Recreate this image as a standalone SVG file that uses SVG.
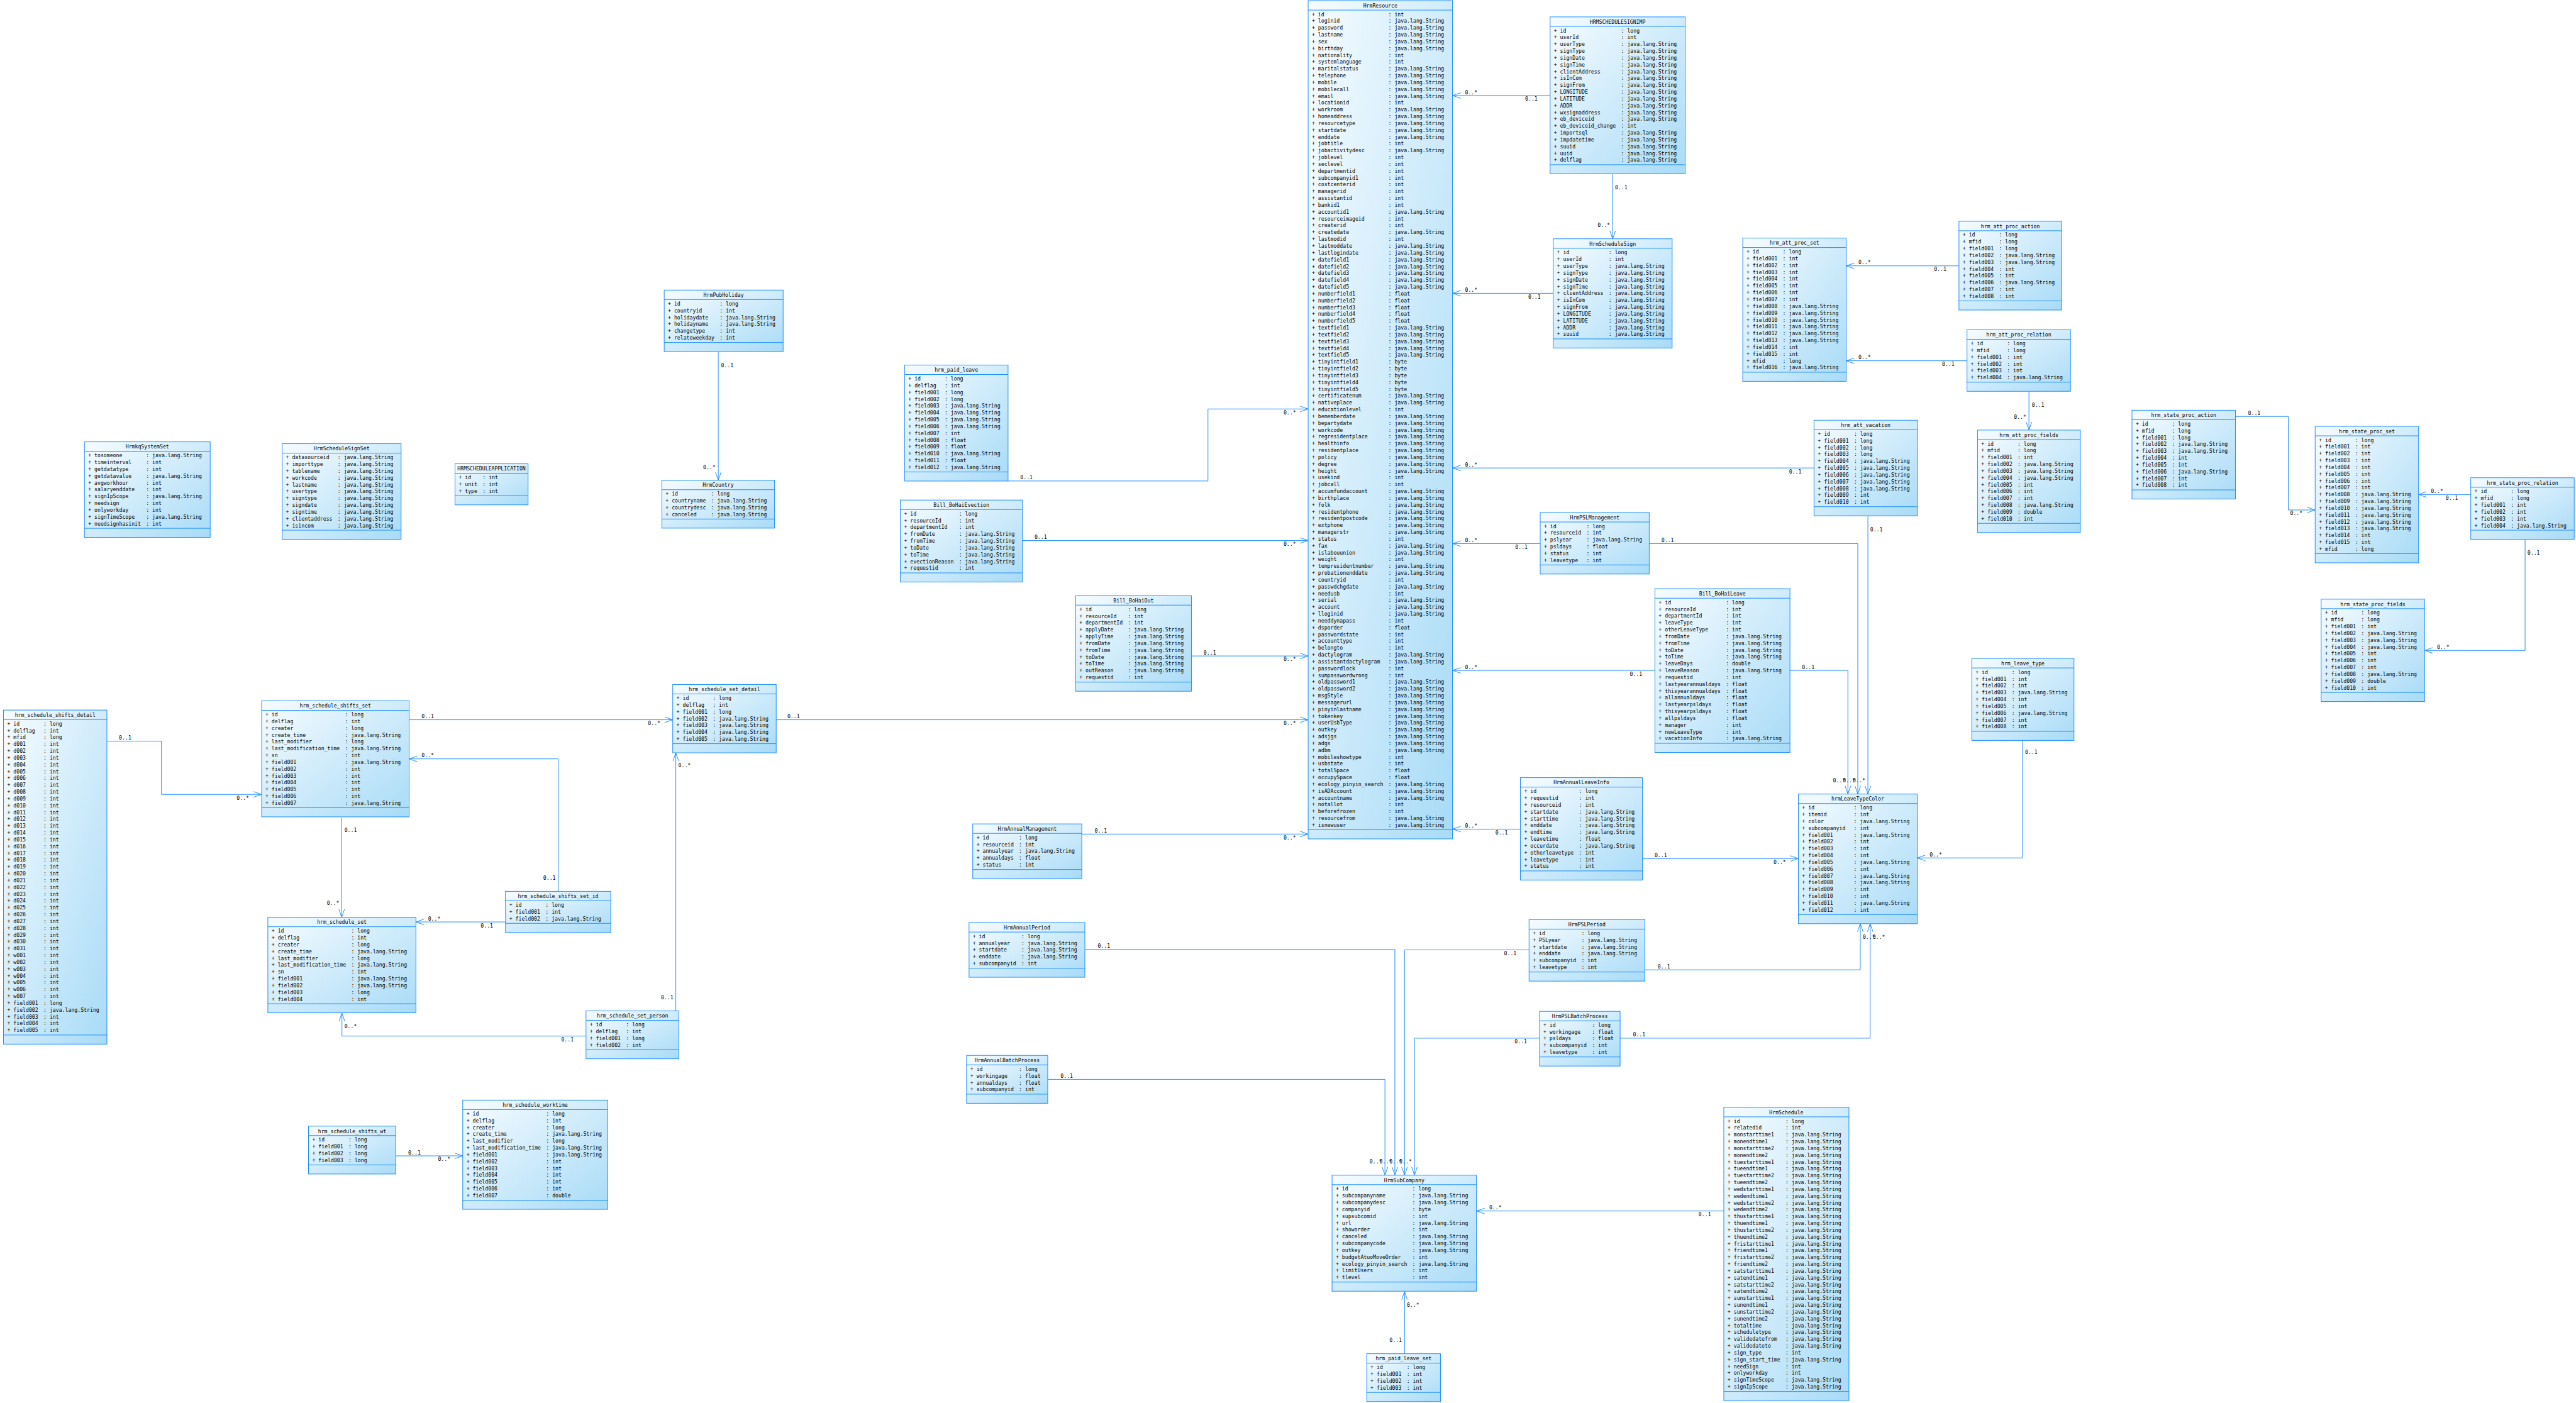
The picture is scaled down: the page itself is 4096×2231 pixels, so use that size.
<svg xmlns="http://www.w3.org/2000/svg" width="4096" height="2231" viewBox="0 0 4096 2231">
<defs>
<linearGradient id="g" x1="0" y1="0" x2="1" y2="1"><stop offset="0" stop-color="#f7fcff"/><stop offset="1" stop-color="#a8dbf7"/></linearGradient>
<marker id="a" markerUnits="userSpaceOnUse" markerWidth="15" markerHeight="11" refX="13.5" refY="5.5" orient="auto"><path d="M0.5 1L13.5 5.5L0.5 10" fill="none" stroke="#1a8cff"/></marker>
</defs>
<style>
text{font-family:"DejaVu Sans Mono","Liberation Mono",monospace;font-size:8.33px;fill:#000}
.h{text-anchor:middle}
.e{text-anchor:end}
.b{fill:url(#g);stroke:#1a8cff}
.s{fill:none;stroke:#1a8cff}
#conn path{fill:none;stroke:#1a8cff;marker-end:url(#a)}
</style>
<rect width="4096" height="2231" fill="#fff"/>
<g transform="scale(0.985)">
<g id="conn">
<path d="M2502.3 154.3H2345"/><text class="e" x="2482" y="162.8">0..1</text><text x="2365" y="151.8">0..*</text>
<path d="M2507.3 473.5H2345"/><text class="e" x="2487" y="482">0..1</text><text x="2365" y="471">0..*</text>
<path d="M2603.3 281.4V385.5"/><text x="2607" y="305.8">0..1</text><text class="e" x="2599" y="366.7">0..*</text>
<path d="M3162.3 429.2H2980.3"/><text class="e" x="3142" y="437.7">0..1</text><text x="3000" y="426.7">0..*</text>
<path d="M3175.3 582.4H2980.3"/><text class="e" x="3155" y="591">0..1</text><text x="3000" y="580">0..*</text>
<path d="M3275.3 632.4V694.3"/><text x="3280" y="656.7">0..1</text><text class="e" x="3271" y="675.7">0..*</text>
<path d="M2928.3 755.5H2345"/><text class="e" x="2908" y="764">0..1</text><text x="2365" y="753">0..*</text>
<path d="M3015.3 833.6V1281.9"/><text x="3019" y="857.9">0..1</text><text class="e" x="3011" y="1262.7">0..*</text>
<path d="M2486.3 877.6H2345"/><text class="e" x="2466" y="886">0..1</text><text x="2365" y="875">0..*</text>
<path d="M2662.2 877.6H2999V1281.9"/><text x="2682" y="875">0..1</text><text class="e" x="2995" y="1262.7">0..*</text>
<path d="M2671.5 1082.3H2345"/><text class="e" x="2651" y="1091">0..1</text><text x="2365" y="1080">0..*</text>
<path d="M2889.5 1082.3H2983V1281.9"/><text x="2909" y="1080">0..1</text><text class="e" x="2979" y="1262.7">0..*</text>
<path d="M2454.3 1338.5H2345"/><text class="e" x="2434" y="1347">0..1</text><text x="2365" y="1336">0..*</text>
<path d="M2651.3 1386H2903"/><text x="2671" y="1383.5">0..1</text><text class="e" x="2883" y="1394.5">0..*</text>
<path d="M3265 1195.3V1385H3095"/><text x="3269" y="1217">0..1</text><text x="3115" y="1382.5">0..*</text>
<path d="M2655.7 1565.7H3003V1491.2"/><text x="2676" y="1563">0..1</text><text x="3007" y="1516">0..*</text>
<path d="M2615.3 1676H3019V1491.2"/><text x="2636" y="1673.5">0..1</text><text x="3023" y="1516">0..*</text>
<path d="M2782.7 1955H2383.7"/><text class="e" x="2762" y="1963.5">0..1</text><text x="2404" y="1952.5">0..*</text>
<path d="M2267.3 2185.4V2085.1"/><text class="e" x="2263" y="2166.7">0..1</text><text x="2271" y="2109.3">0..*</text>
<path d="M2468.3 1533.5H2267.3V1897.2"/><text class="e" x="2448" y="1542">0..1</text><text class="e" x="2263" y="1878.5">0..*</text>
<path d="M2485.3 1676H2283.3V1897.2"/><text class="e" x="2465" y="1684.5">0..1</text><text class="e" x="2279" y="1878.5">0..*</text>
<path d="M1751.7 1532.9H2251.7V1897.2"/><text x="1772" y="1530.4">0..1</text><text class="e" x="2247" y="1878.5">0..*</text>
<path d="M1691.7 1742.5H2235.7V1897.2"/><text x="1712" y="1740">0..1</text><text class="e" x="2231" y="1878.5">0..*</text>
<path d="M1746.3 1346.5H2111.7"/><text x="1767" y="1344">0..1</text><text class="e" x="2092" y="1355">0..*</text>
<path d="M1923.3 1059H2111.7"/><text x="1943" y="1056.5">0..1</text><text class="e" x="2092" y="1067.5">0..*</text>
<path d="M1650.5 872.5H2111.7"/><text x="1670" y="870">0..1</text><text class="e" x="2092" y="881">0..*</text>
<path d="M1627.5 776.5H1950V660.2H2111.7"/><text x="1647" y="774">0..1</text><text class="e" x="2092" y="668.7">0..*</text>
<path d="M1253 1162H2111.7"/><text x="1271" y="1159.5">0..1</text><text class="e" x="2092" y="1170.5">0..*</text>
<path d="M660.5 1162H1086"/><text x="680.5" y="1159.5">0..1</text><text class="e" x="1066" y="1170.5">0..*</text>
<path d="M172.6 1196.4H260.6V1282.5H422.4"/><text x="192" y="1194">0..1</text><text class="e" x="402" y="1291">0..*</text>
<path d="M551.6 1319.7V1480.8"/><text x="556" y="1343.3">0..1</text><text class="e" x="547.6" y="1461.2">0..*</text>
<path d="M901 1439V1225.1H660.5"/><text class="e" x="897" y="1420">0..1</text><text x="680.5" y="1222.6">0..*</text>
<path d="M816 1488.4H671.3"/><text class="e" x="796" y="1497">0..1</text><text x="691" y="1486">0..*</text>
<path d="M946 1672.5H552V1635.4"/><text class="e" x="926" y="1681">0..1</text><text x="556" y="1659.8">0..*</text>
<path d="M1091 1632V1215.3"/><text class="e" x="1087" y="1613">0..1</text><text x="1095" y="1239">0..*</text>
<path d="M639 1866H747"/><text x="659" y="1863.5">0..1</text><text class="e" x="727" y="1874.5">0..*</text>
<path d="M1159.5 568.3V775.3"/><text x="1164" y="592.7">0..1</text><text class="e" x="1155" y="757">0..*</text>
<path d="M3608.3 672.3H3694V823.3H3737.3"/><text x="3629" y="669.8">0..1</text><text class="e" x="3717" y="831.8">0..*</text>
<path d="M3988.5 798.3H3904"/><text class="e" x="3968" y="806.8">0..1</text><text x="3924" y="795.8">0..*</text>
<path d="M4076.2 871.3V1050H3914"/><text x="4080" y="895.7">0..1</text><text x="3934" y="1047.5">0..*</text>
</g>

<g id="HrmResource" transform="translate(2111.7,1)"><rect class="b" width="233" height="1353.3"/><path class="s" d="M0 15.3H233M0 1338.6H233"/><text class="h" x="116.5" y="11">HrmResource</text><g transform="translate(6)">
<text y="25">+ id<tspan x="123.5">: int</tspan></text>
<text y="36">+ loginid<tspan x="123.5">: java.lang.String</tspan></text>
<text y="47">+ password<tspan x="123.5">: java.lang.String</tspan></text>
<text y="58">+ lastname<tspan x="123.5">: java.lang.String</tspan></text>
<text y="69">+ sex<tspan x="123.5">: java.lang.String</tspan></text>
<text y="80">+ birthday<tspan x="123.5">: java.lang.String</tspan></text>
<text y="91">+ nationality<tspan x="123.5">: int</tspan></text>
<text y="102">+ systemlanguage<tspan x="123.5">: int</tspan></text>
<text y="113">+ maritalstatus<tspan x="123.5">: java.lang.String</tspan></text>
<text y="124">+ telephone<tspan x="123.5">: java.lang.String</tspan></text>
<text y="135">+ mobile<tspan x="123.5">: java.lang.String</tspan></text>
<text y="146">+ mobilecall<tspan x="123.5">: java.lang.String</tspan></text>
<text y="157">+ email<tspan x="123.5">: java.lang.String</tspan></text>
<text y="168">+ locationid<tspan x="123.5">: int</tspan></text>
<text y="179">+ workroom<tspan x="123.5">: java.lang.String</tspan></text>
<text y="190">+ homeaddress<tspan x="123.5">: java.lang.String</tspan></text>
<text y="201">+ resourcetype<tspan x="123.5">: java.lang.String</tspan></text>
<text y="212">+ startdate<tspan x="123.5">: java.lang.String</tspan></text>
<text y="223">+ enddate<tspan x="123.5">: java.lang.String</tspan></text>
<text y="234">+ jobtitle<tspan x="123.5">: int</tspan></text>
<text y="245">+ jobactivitydesc<tspan x="123.5">: java.lang.String</tspan></text>
<text y="256">+ joblevel<tspan x="123.5">: int</tspan></text>
<text y="267">+ seclevel<tspan x="123.5">: int</tspan></text>
<text y="278">+ departmentid<tspan x="123.5">: int</tspan></text>
<text y="289">+ subcompanyid1<tspan x="123.5">: int</tspan></text>
<text y="300">+ costcenterid<tspan x="123.5">: int</tspan></text>
<text y="311">+ managerid<tspan x="123.5">: int</tspan></text>
<text y="322">+ assistantid<tspan x="123.5">: int</tspan></text>
<text y="333">+ bankid1<tspan x="123.5">: int</tspan></text>
<text y="344">+ accountid1<tspan x="123.5">: java.lang.String</tspan></text>
<text y="355">+ resourceimageid<tspan x="123.5">: int</tspan></text>
<text y="366">+ createrid<tspan x="123.5">: int</tspan></text>
<text y="377">+ createdate<tspan x="123.5">: java.lang.String</tspan></text>
<text y="388">+ lastmodid<tspan x="123.5">: int</tspan></text>
<text y="399">+ lastmoddate<tspan x="123.5">: java.lang.String</tspan></text>
<text y="410">+ lastlogindate<tspan x="123.5">: java.lang.String</tspan></text>
<text y="421">+ datefield1<tspan x="123.5">: java.lang.String</tspan></text>
<text y="432">+ datefield2<tspan x="123.5">: java.lang.String</tspan></text>
<text y="443">+ datefield3<tspan x="123.5">: java.lang.String</tspan></text>
<text y="454">+ datefield4<tspan x="123.5">: java.lang.String</tspan></text>
<text y="465">+ datefield5<tspan x="123.5">: java.lang.String</tspan></text>
<text y="476">+ numberfield1<tspan x="123.5">: float</tspan></text>
<text y="487">+ numberfield2<tspan x="123.5">: float</tspan></text>
<text y="498">+ numberfield3<tspan x="123.5">: float</tspan></text>
<text y="509">+ numberfield4<tspan x="123.5">: float</tspan></text>
<text y="520">+ numberfield5<tspan x="123.5">: float</tspan></text>
<text y="531">+ textfield1<tspan x="123.5">: java.lang.String</tspan></text>
<text y="542">+ textfield2<tspan x="123.5">: java.lang.String</tspan></text>
<text y="553">+ textfield3<tspan x="123.5">: java.lang.String</tspan></text>
<text y="564">+ textfield4<tspan x="123.5">: java.lang.String</tspan></text>
<text y="575">+ textfield5<tspan x="123.5">: java.lang.String</tspan></text>
<text y="586">+ tinyintfield1<tspan x="123.5">: byte</tspan></text>
<text y="597">+ tinyintfield2<tspan x="123.5">: byte</tspan></text>
<text y="608">+ tinyintfield3<tspan x="123.5">: byte</tspan></text>
<text y="619">+ tinyintfield4<tspan x="123.5">: byte</tspan></text>
<text y="630">+ tinyintfield5<tspan x="123.5">: byte</tspan></text>
<text y="641">+ certificatenum<tspan x="123.5">: java.lang.String</tspan></text>
<text y="652">+ nativeplace<tspan x="123.5">: java.lang.String</tspan></text>
<text y="663">+ educationlevel<tspan x="123.5">: int</tspan></text>
<text y="674">+ bememberdate<tspan x="123.5">: java.lang.String</tspan></text>
<text y="685">+ bepartydate<tspan x="123.5">: java.lang.String</tspan></text>
<text y="696">+ workcode<tspan x="123.5">: java.lang.String</tspan></text>
<text y="707">+ regresidentplace<tspan x="123.5">: java.lang.String</tspan></text>
<text y="718">+ healthinfo<tspan x="123.5">: java.lang.String</tspan></text>
<text y="729">+ residentplace<tspan x="123.5">: java.lang.String</tspan></text>
<text y="740">+ policy<tspan x="123.5">: java.lang.String</tspan></text>
<text y="751">+ degree<tspan x="123.5">: java.lang.String</tspan></text>
<text y="762">+ height<tspan x="123.5">: java.lang.String</tspan></text>
<text y="773">+ usekind<tspan x="123.5">: int</tspan></text>
<text y="784">+ jobcall<tspan x="123.5">: int</tspan></text>
<text y="795">+ accumfundaccount<tspan x="123.5">: java.lang.String</tspan></text>
<text y="806">+ birthplace<tspan x="123.5">: java.lang.String</tspan></text>
<text y="817">+ folk<tspan x="123.5">: java.lang.String</tspan></text>
<text y="828">+ residentphone<tspan x="123.5">: java.lang.String</tspan></text>
<text y="839">+ residentpostcode<tspan x="123.5">: java.lang.String</tspan></text>
<text y="850">+ extphone<tspan x="123.5">: java.lang.String</tspan></text>
<text y="861">+ managerstr<tspan x="123.5">: java.lang.String</tspan></text>
<text y="872">+ status<tspan x="123.5">: int</tspan></text>
<text y="883">+ fax<tspan x="123.5">: java.lang.String</tspan></text>
<text y="894">+ islabouunion<tspan x="123.5">: java.lang.String</tspan></text>
<text y="905">+ weight<tspan x="123.5">: int</tspan></text>
<text y="916">+ tempresidentnumber<tspan x="123.5">: java.lang.String</tspan></text>
<text y="927">+ probationenddate<tspan x="123.5">: java.lang.String</tspan></text>
<text y="938">+ countryid<tspan x="123.5">: int</tspan></text>
<text y="949">+ passwdchgdate<tspan x="123.5">: java.lang.String</tspan></text>
<text y="960">+ needusb<tspan x="123.5">: int</tspan></text>
<text y="971">+ serial<tspan x="123.5">: java.lang.String</tspan></text>
<text y="982">+ account<tspan x="123.5">: java.lang.String</tspan></text>
<text y="993">+ lloginid<tspan x="123.5">: java.lang.String</tspan></text>
<text y="1004">+ needdynapass<tspan x="123.5">: int</tspan></text>
<text y="1015">+ dsporder<tspan x="123.5">: float</tspan></text>
<text y="1026">+ passwordstate<tspan x="123.5">: int</tspan></text>
<text y="1037">+ accounttype<tspan x="123.5">: int</tspan></text>
<text y="1048">+ belongto<tspan x="123.5">: int</tspan></text>
<text y="1059">+ dactylogram<tspan x="123.5">: java.lang.String</tspan></text>
<text y="1070">+ assistantdactylogram<tspan x="123.5">: java.lang.String</tspan></text>
<text y="1081">+ passwordlock<tspan x="123.5">: int</tspan></text>
<text y="1092">+ sumpasswordwrong<tspan x="123.5">: int</tspan></text>
<text y="1103">+ oldpassword1<tspan x="123.5">: java.lang.String</tspan></text>
<text y="1114">+ oldpassword2<tspan x="123.5">: java.lang.String</tspan></text>
<text y="1125">+ msgStyle<tspan x="123.5">: java.lang.String</tspan></text>
<text y="1136">+ messagerurl<tspan x="123.5">: java.lang.String</tspan></text>
<text y="1147">+ pinyinlastname<tspan x="123.5">: java.lang.String</tspan></text>
<text y="1158">+ tokenkey<tspan x="123.5">: java.lang.String</tspan></text>
<text y="1169">+ userUsbType<tspan x="123.5">: java.lang.String</tspan></text>
<text y="1180">+ outkey<tspan x="123.5">: java.lang.String</tspan></text>
<text y="1191">+ adsjgs<tspan x="123.5">: java.lang.String</tspan></text>
<text y="1202">+ adgs<tspan x="123.5">: java.lang.String</tspan></text>
<text y="1213">+ adbm<tspan x="123.5">: java.lang.String</tspan></text>
<text y="1224">+ mobileshowtype<tspan x="123.5">: int</tspan></text>
<text y="1235">+ usbstate<tspan x="123.5">: int</tspan></text>
<text y="1246">+ totalSpace<tspan x="123.5">: float</tspan></text>
<text y="1257">+ occupySpace<tspan x="123.5">: float</tspan></text>
<text y="1268">+ ecology_pinyin_search<tspan x="123.5">: java.lang.String</tspan></text>
<text y="1279">+ isADAccount<tspan x="123.5">: java.lang.String</tspan></text>
<text y="1290">+ accountname<tspan x="123.5">: java.lang.String</tspan></text>
<text y="1301">+ notallot<tspan x="123.5">: int</tspan></text>
<text y="1312">+ beforefrozen<tspan x="123.5">: int</tspan></text>
<text y="1323">+ resourcefrom<tspan x="123.5">: java.lang.String</tspan></text>
<text y="1334">+ isnewuser<tspan x="123.5">: java.lang.String</tspan></text>
</g></g>

<g id="HRMSCHEDULESIGNIMP" transform="translate(2502.3,27.3)"><rect class="b" width="218" height="253.3"/><path class="s" d="M0 15.3H218M0 238.6H218"/><text class="h" x="109" y="11">HRMSCHEDULESIGNIMP</text><g transform="translate(6)">
<text y="25">+ id<tspan x="108.5">: long</tspan></text>
<text y="36">+ userId<tspan x="108.5">: int</tspan></text>
<text y="47">+ userType<tspan x="108.5">: java.lang.String</tspan></text>
<text y="58">+ signType<tspan x="108.5">: java.lang.String</tspan></text>
<text y="69">+ signDate<tspan x="108.5">: java.lang.String</tspan></text>
<text y="80">+ signTime<tspan x="108.5">: java.lang.String</tspan></text>
<text y="91">+ clientAddress<tspan x="108.5">: java.lang.String</tspan></text>
<text y="102">+ isInCom<tspan x="108.5">: java.lang.String</tspan></text>
<text y="113">+ signFrom<tspan x="108.5">: java.lang.String</tspan></text>
<text y="124">+ LONGITUDE<tspan x="108.5">: java.lang.String</tspan></text>
<text y="135">+ LATITUDE<tspan x="108.5">: java.lang.String</tspan></text>
<text y="146">+ ADDR<tspan x="108.5">: java.lang.String</tspan></text>
<text y="157">+ wxsignaddress<tspan x="108.5">: java.lang.String</tspan></text>
<text y="168">+ eb_deviceid<tspan x="108.5">: java.lang.String</tspan></text>
<text y="179">+ eb_deviceid_change<tspan x="108.5">: int</tspan></text>
<text y="190">+ importsql<tspan x="108.5">: java.lang.String</tspan></text>
<text y="201">+ impdatetime<tspan x="108.5">: java.lang.String</tspan></text>
<text y="212">+ suuid<tspan x="108.5">: java.lang.String</tspan></text>
<text y="223">+ uuid<tspan x="108.5">: java.lang.String</tspan></text>
<text y="234">+ delflag<tspan x="108.5">: java.lang.String</tspan></text>
</g></g>

<g id="HrmScheduleSign" transform="translate(2507.3,385.5)"><rect class="b" width="192" height="176.3"/><path class="s" d="M0 15.3H192M0 161.6H192"/><text class="h" x="96" y="11">HrmScheduleSign</text><g transform="translate(6)">
<text y="25">+ id<tspan x="83.5">: long</tspan></text>
<text y="36">+ userId<tspan x="83.5">: int</tspan></text>
<text y="47">+ userType<tspan x="83.5">: java.lang.String</tspan></text>
<text y="58">+ signType<tspan x="83.5">: java.lang.String</tspan></text>
<text y="69">+ signDate<tspan x="83.5">: java.lang.String</tspan></text>
<text y="80">+ signTime<tspan x="83.5">: java.lang.String</tspan></text>
<text y="91">+ clientAddress<tspan x="83.5">: java.lang.String</tspan></text>
<text y="102">+ isInCom<tspan x="83.5">: java.lang.String</tspan></text>
<text y="113">+ signFrom<tspan x="83.5">: java.lang.String</tspan></text>
<text y="124">+ LONGITUDE<tspan x="83.5">: java.lang.String</tspan></text>
<text y="135">+ LATITUDE<tspan x="83.5">: java.lang.String</tspan></text>
<text y="146">+ ADDR<tspan x="83.5">: java.lang.String</tspan></text>
<text y="157">+ suuid<tspan x="83.5">: java.lang.String</tspan></text>
</g></g>

<g id="hrm_att_proc_set" transform="translate(2813.3,384.3)"><rect class="b" width="167" height="231.3"/><path class="s" d="M0 15.3H167M0 216.6H167"/><text class="h" x="83.5" y="11">hrm_att_proc_set</text><g transform="translate(6)">
<text y="25">+ id<tspan x="58.5">: long</tspan></text>
<text y="36">+ field001<tspan x="58.5">: int</tspan></text>
<text y="47">+ field002<tspan x="58.5">: int</tspan></text>
<text y="58">+ field003<tspan x="58.5">: int</tspan></text>
<text y="69">+ field004<tspan x="58.5">: int</tspan></text>
<text y="80">+ field005<tspan x="58.5">: int</tspan></text>
<text y="91">+ field006<tspan x="58.5">: int</tspan></text>
<text y="102">+ field007<tspan x="58.5">: int</tspan></text>
<text y="113">+ field008<tspan x="58.5">: java.lang.String</tspan></text>
<text y="124">+ field009<tspan x="58.5">: java.lang.String</tspan></text>
<text y="135">+ field010<tspan x="58.5">: java.lang.String</tspan></text>
<text y="146">+ field011<tspan x="58.5">: java.lang.String</tspan></text>
<text y="157">+ field012<tspan x="58.5">: java.lang.String</tspan></text>
<text y="168">+ field013<tspan x="58.5">: java.lang.String</tspan></text>
<text y="179">+ field014<tspan x="58.5">: int</tspan></text>
<text y="190">+ field015<tspan x="58.5">: int</tspan></text>
<text y="201">+ mfid<tspan x="58.5">: long</tspan></text>
<text y="212">+ field016<tspan x="58.5">: java.lang.String</tspan></text>
</g></g>

<g id="hrm_att_proc_action" transform="translate(3162.3,357.2)"><rect class="b" width="166" height="143.3"/><path class="s" d="M0 15.3H166M0 128.6H166"/><text class="h" x="83" y="11">hrm_att_proc_action</text><g transform="translate(6)">
<text y="25">+ id<tspan x="58.5">: long</tspan></text>
<text y="36">+ mfid<tspan x="58.5">: long</tspan></text>
<text y="47">+ field001<tspan x="58.5">: long</tspan></text>
<text y="58">+ field002<tspan x="58.5">: java.lang.String</tspan></text>
<text y="69">+ field003<tspan x="58.5">: java.lang.String</tspan></text>
<text y="80">+ field004<tspan x="58.5">: int</tspan></text>
<text y="91">+ field005<tspan x="58.5">: int</tspan></text>
<text y="102">+ field006<tspan x="58.5">: java.lang.String</tspan></text>
<text y="113">+ field007<tspan x="58.5">: int</tspan></text>
<text y="124">+ field008<tspan x="58.5">: int</tspan></text>
</g></g>

<g id="hrm_att_proc_relation" transform="translate(3175.3,532.4)"><rect class="b" width="167" height="99.3"/><path class="s" d="M0 15.3H167M0 84.6H167"/><text class="h" x="83.5" y="11">hrm_att_proc_relation</text><g transform="translate(6)">
<text y="25">+ id<tspan x="58.5">: long</tspan></text>
<text y="36">+ mfid<tspan x="58.5">: long</tspan></text>
<text y="47">+ field001<tspan x="58.5">: int</tspan></text>
<text y="58">+ field002<tspan x="58.5">: int</tspan></text>
<text y="69">+ field003<tspan x="58.5">: int</tspan></text>
<text y="80">+ field004<tspan x="58.5">: java.lang.String</tspan></text>
</g></g>

<g id="hrm_att_proc_fields" transform="translate(3192.3,694.3)"><rect class="b" width="166" height="165.3"/><path class="s" d="M0 15.3H166M0 150.6H166"/><text class="h" x="83" y="11">hrm_att_proc_fields</text><g transform="translate(6)">
<text y="25">+ id<tspan x="58.5">: long</tspan></text>
<text y="36">+ mfid<tspan x="58.5">: long</tspan></text>
<text y="47">+ field001<tspan x="58.5">: int</tspan></text>
<text y="58">+ field002<tspan x="58.5">: java.lang.String</tspan></text>
<text y="69">+ field003<tspan x="58.5">: java.lang.String</tspan></text>
<text y="80">+ field004<tspan x="58.5">: java.lang.String</tspan></text>
<text y="91">+ field005<tspan x="58.5">: int</tspan></text>
<text y="102">+ field006<tspan x="58.5">: int</tspan></text>
<text y="113">+ field007<tspan x="58.5">: int</tspan></text>
<text y="124">+ field008<tspan x="58.5">: java.lang.String</tspan></text>
<text y="135">+ field009<tspan x="58.5">: double</tspan></text>
<text y="146">+ field010<tspan x="58.5">: int</tspan></text>
</g></g>

<g id="hrm_att_vacation" transform="translate(2928.3,678.4)"><rect class="b" width="167" height="154.3"/><path class="s" d="M0 15.3H167M0 139.6H167"/><text class="h" x="83.5" y="11">hrm_att_vacation</text><g transform="translate(6)">
<text y="25">+ id<tspan x="58.5">: long</tspan></text>
<text y="36">+ field001<tspan x="58.5">: long</tspan></text>
<text y="47">+ field002<tspan x="58.5">: long</tspan></text>
<text y="58">+ field003<tspan x="58.5">: long</tspan></text>
<text y="69">+ field004<tspan x="58.5">: java.lang.String</tspan></text>
<text y="80">+ field005<tspan x="58.5">: java.lang.String</tspan></text>
<text y="91">+ field006<tspan x="58.5">: java.lang.String</tspan></text>
<text y="102">+ field007<tspan x="58.5">: java.lang.String</tspan></text>
<text y="113">+ field008<tspan x="58.5">: java.lang.String</tspan></text>
<text y="124">+ field009<tspan x="58.5">: int</tspan></text>
<text y="135">+ field010<tspan x="58.5">: int</tspan></text>
</g></g>

<g id="hrm_state_proc_action" transform="translate(3441.6,662.3)"><rect class="b" width="167" height="143.3"/><path class="s" d="M0 15.3H167M0 128.6H167"/><text class="h" x="83.5" y="11">hrm_state_proc_action</text><g transform="translate(6)">
<text y="25">+ id<tspan x="58.5">: long</tspan></text>
<text y="36">+ mfid<tspan x="58.5">: long</tspan></text>
<text y="47">+ field001<tspan x="58.5">: long</tspan></text>
<text y="58">+ field002<tspan x="58.5">: java.lang.String</tspan></text>
<text y="69">+ field003<tspan x="58.5">: java.lang.String</tspan></text>
<text y="80">+ field004<tspan x="58.5">: int</tspan></text>
<text y="91">+ field005<tspan x="58.5">: int</tspan></text>
<text y="102">+ field006<tspan x="58.5">: java.lang.String</tspan></text>
<text y="113">+ field007<tspan x="58.5">: int</tspan></text>
<text y="124">+ field008<tspan x="58.5">: int</tspan></text>
</g></g>

<g id="hrm_state_proc_set" transform="translate(3737.3,688.3)"><rect class="b" width="167" height="220.3"/><path class="s" d="M0 15.3H167M0 205.6H167"/><text class="h" x="83.5" y="11">hrm_state_proc_set</text><g transform="translate(6)">
<text y="25">+ id<tspan x="58.5">: long</tspan></text>
<text y="36">+ field001<tspan x="58.5">: int</tspan></text>
<text y="47">+ field002<tspan x="58.5">: int</tspan></text>
<text y="58">+ field003<tspan x="58.5">: int</tspan></text>
<text y="69">+ field004<tspan x="58.5">: int</tspan></text>
<text y="80">+ field005<tspan x="58.5">: int</tspan></text>
<text y="91">+ field006<tspan x="58.5">: int</tspan></text>
<text y="102">+ field007<tspan x="58.5">: int</tspan></text>
<text y="113">+ field008<tspan x="58.5">: java.lang.String</tspan></text>
<text y="124">+ field009<tspan x="58.5">: java.lang.String</tspan></text>
<text y="135">+ field010<tspan x="58.5">: java.lang.String</tspan></text>
<text y="146">+ field011<tspan x="58.5">: java.lang.String</tspan></text>
<text y="157">+ field012<tspan x="58.5">: java.lang.String</tspan></text>
<text y="168">+ field013<tspan x="58.5">: java.lang.String</tspan></text>
<text y="179">+ field014<tspan x="58.5">: int</tspan></text>
<text y="190">+ field015<tspan x="58.5">: int</tspan></text>
<text y="201">+ mfid<tspan x="58.5">: long</tspan></text>
</g></g>

<g id="hrm_state_proc_relation" transform="translate(3988.5,771.3)"><rect class="b" width="167" height="99.3"/><path class="s" d="M0 15.3H167M0 84.6H167"/><text class="h" x="83.5" y="11">hrm_state_proc_relation</text><g transform="translate(6)">
<text y="25">+ id<tspan x="58.5">: long</tspan></text>
<text y="36">+ mfid<tspan x="58.5">: long</tspan></text>
<text y="47">+ field001<tspan x="58.5">: int</tspan></text>
<text y="58">+ field002<tspan x="58.5">: int</tspan></text>
<text y="69">+ field003<tspan x="58.5">: int</tspan></text>
<text y="80">+ field004<tspan x="58.5">: java.lang.String</tspan></text>
</g></g>

<g id="hrm_state_proc_fields" transform="translate(3747,967.3)"><rect class="b" width="167" height="165.3"/><path class="s" d="M0 15.3H167M0 150.6H167"/><text class="h" x="83.5" y="11">hrm_state_proc_fields</text><g transform="translate(6)">
<text y="25">+ id<tspan x="58.5">: long</tspan></text>
<text y="36">+ mfid<tspan x="58.5">: long</tspan></text>
<text y="47">+ field001<tspan x="58.5">: int</tspan></text>
<text y="58">+ field002<tspan x="58.5">: java.lang.String</tspan></text>
<text y="69">+ field003<tspan x="58.5">: java.lang.String</tspan></text>
<text y="80">+ field004<tspan x="58.5">: java.lang.String</tspan></text>
<text y="91">+ field005<tspan x="58.5">: int</tspan></text>
<text y="102">+ field006<tspan x="58.5">: int</tspan></text>
<text y="113">+ field007<tspan x="58.5">: int</tspan></text>
<text y="124">+ field008<tspan x="58.5">: java.lang.String</tspan></text>
<text y="135">+ field009<tspan x="58.5">: double</tspan></text>
<text y="146">+ field010<tspan x="58.5">: int</tspan></text>
</g></g>

<g id="HrmPSLManagement" transform="translate(2486.3,827.4)"><rect class="b" width="176" height="99.3"/><path class="s" d="M0 15.3H176M0 84.6H176"/><text class="h" x="88" y="11">HrmPSLManagement</text><g transform="translate(6)">
<text y="25">+ id<tspan x="68.5">: long</tspan></text>
<text y="36">+ resourceid<tspan x="68.5">: int</tspan></text>
<text y="47">+ pslyear<tspan x="68.5">: java.lang.String</tspan></text>
<text y="58">+ psldays<tspan x="68.5">: float</tspan></text>
<text y="69">+ status<tspan x="68.5">: int</tspan></text>
<text y="80">+ leavetype<tspan x="68.5">: int</tspan></text>
</g></g>

<g id="Bill_BoHaiLeave" transform="translate(2671.5,950.4)"><rect class="b" width="218" height="264.3"/><path class="s" d="M0 15.3H218M0 249.6H218"/><text class="h" x="109" y="11">Bill_BoHaiLeave</text><g transform="translate(6)">
<text y="25">+ id<tspan x="108.5">: long</tspan></text>
<text y="36">+ resourceId<tspan x="108.5">: int</tspan></text>
<text y="47">+ departmentId<tspan x="108.5">: int</tspan></text>
<text y="58">+ leaveType<tspan x="108.5">: int</tspan></text>
<text y="69">+ otherLeaveType<tspan x="108.5">: int</tspan></text>
<text y="80">+ fromDate<tspan x="108.5">: java.lang.String</tspan></text>
<text y="91">+ fromTime<tspan x="108.5">: java.lang.String</tspan></text>
<text y="102">+ toDate<tspan x="108.5">: java.lang.String</tspan></text>
<text y="113">+ toTime<tspan x="108.5">: java.lang.String</tspan></text>
<text y="124">+ leaveDays<tspan x="108.5">: double</tspan></text>
<text y="135">+ leaveReason<tspan x="108.5">: java.lang.String</tspan></text>
<text y="146">+ requestid<tspan x="108.5">: int</tspan></text>
<text y="157">+ lastyearannualdays<tspan x="108.5">: float</tspan></text>
<text y="168">+ thisyearannualdays<tspan x="108.5">: float</tspan></text>
<text y="179">+ allannualdays<tspan x="108.5">: float</tspan></text>
<text y="190">+ lastyearpsldays<tspan x="108.5">: float</tspan></text>
<text y="201">+ thisyearpsldays<tspan x="108.5">: float</tspan></text>
<text y="212">+ allpsldays<tspan x="108.5">: float</tspan></text>
<text y="223">+ manager<tspan x="108.5">: int</tspan></text>
<text y="234">+ newLeaveType<tspan x="108.5">: int</tspan></text>
<text y="245">+ vacationInfo<tspan x="108.5">: java.lang.String</tspan></text>
</g></g>

<g id="HrmAnnualLeaveInfo" transform="translate(2454.3,1255.4)"><rect class="b" width="197" height="165.3"/><path class="s" d="M0 15.3H197M0 150.6H197"/><text class="h" x="98.5" y="11">HrmAnnualLeaveInfo</text><g transform="translate(6)">
<text y="25">+ id<tspan x="88.5">: long</tspan></text>
<text y="36">+ requestid<tspan x="88.5">: int</tspan></text>
<text y="47">+ resourceid<tspan x="88.5">: int</tspan></text>
<text y="58">+ startdate<tspan x="88.5">: java.lang.String</tspan></text>
<text y="69">+ starttime<tspan x="88.5">: java.lang.String</tspan></text>
<text y="80">+ enddate<tspan x="88.5">: java.lang.String</tspan></text>
<text y="91">+ endtime<tspan x="88.5">: java.lang.String</tspan></text>
<text y="102">+ leavetime<tspan x="88.5">: float</tspan></text>
<text y="113">+ occurdate<tspan x="88.5">: java.lang.String</tspan></text>
<text y="124">+ otherleavetype<tspan x="88.5">: int</tspan></text>
<text y="135">+ leavetype<tspan x="88.5">: int</tspan></text>
<text y="146">+ status<tspan x="88.5">: int</tspan></text>
</g></g>

<g id="hrmLeaveTypeColor" transform="translate(2903,1281.9)"><rect class="b" width="192" height="209.3"/><path class="s" d="M0 15.3H192M0 194.6H192"/><text class="h" x="96" y="11">hrmLeaveTypeColor</text><g transform="translate(6)">
<text y="25">+ id<tspan x="83.5">: long</tspan></text>
<text y="36">+ itemid<tspan x="83.5">: int</tspan></text>
<text y="47">+ color<tspan x="83.5">: java.lang.String</tspan></text>
<text y="58">+ subcompanyid<tspan x="83.5">: int</tspan></text>
<text y="69">+ field001<tspan x="83.5">: java.lang.String</tspan></text>
<text y="80">+ field002<tspan x="83.5">: int</tspan></text>
<text y="91">+ field003<tspan x="83.5">: int</tspan></text>
<text y="102">+ field004<tspan x="83.5">: int</tspan></text>
<text y="113">+ field005<tspan x="83.5">: java.lang.String</tspan></text>
<text y="124">+ field006<tspan x="83.5">: int</tspan></text>
<text y="135">+ field007<tspan x="83.5">: java.lang.String</tspan></text>
<text y="146">+ field008<tspan x="83.5">: java.lang.String</tspan></text>
<text y="157">+ field009<tspan x="83.5">: int</tspan></text>
<text y="168">+ field010<tspan x="83.5">: int</tspan></text>
<text y="179">+ field011<tspan x="83.5">: java.lang.String</tspan></text>
<text y="190">+ field012<tspan x="83.5">: int</tspan></text>
</g></g>

<g id="hrm_leave_type" transform="translate(3183,1063)"><rect class="b" width="165" height="132.3"/><path class="s" d="M0 15.3H165M0 117.6H165"/><text class="h" x="82.5" y="11">hrm_leave_type</text><g transform="translate(6)">
<text y="25">+ id<tspan x="58.5">: long</tspan></text>
<text y="36">+ field001<tspan x="58.5">: int</tspan></text>
<text y="47">+ field002<tspan x="58.5">: int</tspan></text>
<text y="58">+ field003<tspan x="58.5">: java.lang.String</tspan></text>
<text y="69">+ field004<tspan x="58.5">: int</tspan></text>
<text y="80">+ field005<tspan x="58.5">: int</tspan></text>
<text y="91">+ field006<tspan x="58.5">: java.lang.String</tspan></text>
<text y="102">+ field007<tspan x="58.5">: int</tspan></text>
<text y="113">+ field008<tspan x="58.5">: int</tspan></text>
</g></g>

<g id="HrmkqSystemSet" transform="translate(136.3,713.3)"><rect class="b" width="203" height="154.3"/><path class="s" d="M0 15.3H203M0 139.6H203"/><text class="h" x="101.5" y="11">HrmkqSystemSet</text><g transform="translate(6)">
<text y="25">+ tosomeone<tspan x="93.5">: java.lang.String</tspan></text>
<text y="36">+ timeinterval<tspan x="93.5">: int</tspan></text>
<text y="47">+ getdatatype<tspan x="93.5">: int</tspan></text>
<text y="58">+ getdatavalue<tspan x="93.5">: java.lang.String</tspan></text>
<text y="69">+ avgworkhour<tspan x="93.5">: int</tspan></text>
<text y="80">+ salaryenddate<tspan x="93.5">: int</tspan></text>
<text y="91">+ signIpScope<tspan x="93.5">: java.lang.String</tspan></text>
<text y="102">+ needsign<tspan x="93.5">: int</tspan></text>
<text y="113">+ onlyworkday<tspan x="93.5">: int</tspan></text>
<text y="124">+ signTimeScope<tspan x="93.5">: java.lang.String</tspan></text>
<text y="135">+ needsignhasinit<tspan x="93.5">: int</tspan></text>
</g></g>

<g id="HrmScheduleSignSet" transform="translate(455.5,716.3)"><rect class="b" width="192" height="154.3"/><path class="s" d="M0 15.3H192M0 139.6H192"/><text class="h" x="96" y="11">HrmScheduleSignSet</text><g transform="translate(6)">
<text y="25">+ datasourceid<tspan x="83.5">: java.lang.String</tspan></text>
<text y="36">+ importtype<tspan x="83.5">: java.lang.String</tspan></text>
<text y="47">+ tablename<tspan x="83.5">: java.lang.String</tspan></text>
<text y="58">+ workcode<tspan x="83.5">: java.lang.String</tspan></text>
<text y="69">+ lastname<tspan x="83.5">: java.lang.String</tspan></text>
<text y="80">+ usertype<tspan x="83.5">: java.lang.String</tspan></text>
<text y="91">+ signtype<tspan x="83.5">: java.lang.String</tspan></text>
<text y="102">+ signdate<tspan x="83.5">: java.lang.String</tspan></text>
<text y="113">+ signtime<tspan x="83.5">: java.lang.String</tspan></text>
<text y="124">+ clientaddress<tspan x="83.5">: java.lang.String</tspan></text>
<text y="135">+ isincom<tspan x="83.5">: java.lang.String</tspan></text>
</g></g>

<g id="HRMSCHEDULEAPPLICATION" transform="translate(734.5,748.7)"><rect class="b" width="118" height="66.3"/><path class="s" d="M0 15.3H118M0 51.6H118"/><text class="h" x="59" y="11">HRMSCHEDULEAPPLICATION</text><g transform="translate(6)">
<text y="25">+ id<tspan x="38.5">: int</tspan></text>
<text y="36">+ unit<tspan x="38.5">: int</tspan></text>
<text y="47">+ type<tspan x="38.5">: int</tspan></text>
</g></g>

<g id="HrmPSLPeriod" transform="translate(2468.3,1484.6)"><rect class="b" width="187" height="99.3"/><path class="s" d="M0 15.3H187M0 84.6H187"/><text class="h" x="93.5" y="11">HrmPSLPeriod</text><g transform="translate(6)">
<text y="25">+ id<tspan x="78.5">: long</tspan></text>
<text y="36">+ PSLyear<tspan x="78.5">: java.lang.String</tspan></text>
<text y="47">+ startdate<tspan x="78.5">: java.lang.String</tspan></text>
<text y="58">+ enddate<tspan x="78.5">: java.lang.String</tspan></text>
<text y="69">+ subcompanyid<tspan x="78.5">: int</tspan></text>
<text y="80">+ leavetype<tspan x="78.5">: int</tspan></text>
</g></g>

<g id="HrmPSLBatchProcess" transform="translate(2485.3,1632.7)"><rect class="b" width="130" height="88.3"/><path class="s" d="M0 15.3H130M0 73.6H130"/><text class="h" x="65" y="11">HrmPSLBatchProcess</text><g transform="translate(6)">
<text y="25">+ id<tspan x="78.5">: long</tspan></text>
<text y="36">+ workingage<tspan x="78.5">: float</tspan></text>
<text y="47">+ psldays<tspan x="78.5">: float</tspan></text>
<text y="58">+ subcompanyid<tspan x="78.5">: int</tspan></text>
<text y="69">+ leavetype<tspan x="78.5">: int</tspan></text>
</g></g>

<g id="HrmSubCompany" transform="translate(2150.3,1897.2)"><rect class="b" width="233" height="187.3"/><path class="s" d="M0 15.3H233M0 172.6H233"/><text class="h" x="116.5" y="11">HrmSubCompany</text><g transform="translate(6)">
<text y="25">+ id<tspan x="123.5">: long</tspan></text>
<text y="36">+ subcompanyname<tspan x="123.5">: java.lang.String</tspan></text>
<text y="47">+ subcompanydesc<tspan x="123.5">: java.lang.String</tspan></text>
<text y="58">+ companyid<tspan x="123.5">: byte</tspan></text>
<text y="69">+ supsubcomid<tspan x="123.5">: int</tspan></text>
<text y="80">+ url<tspan x="123.5">: java.lang.String</tspan></text>
<text y="91">+ showorder<tspan x="123.5">: int</tspan></text>
<text y="102">+ canceled<tspan x="123.5">: java.lang.String</tspan></text>
<text y="113">+ subcompanycode<tspan x="123.5">: java.lang.String</tspan></text>
<text y="124">+ outkey<tspan x="123.5">: java.lang.String</tspan></text>
<text y="135">+ budgetAtuoMoveOrder<tspan x="123.5">: int</tspan></text>
<text y="146">+ ecology_pinyin_search<tspan x="123.5">: java.lang.String</tspan></text>
<text y="157">+ limitUsers<tspan x="123.5">: int</tspan></text>
<text y="168">+ tlevel<tspan x="123.5">: int</tspan></text>
</g></g>

<g id="hrm_paid_leave_set" transform="translate(2206.3,2185.4)"><rect class="b" width="119" height="77.3"/><path class="s" d="M0 15.3H119M0 62.6H119"/><text class="h" x="59.5" y="11">hrm_paid_leave_set</text><g transform="translate(6)">
<text y="25">+ id<tspan x="58.5">: long</tspan></text>
<text y="36">+ field001<tspan x="58.5">: int</tspan></text>
<text y="47">+ field002<tspan x="58.5">: int</tspan></text>
<text y="58">+ field003<tspan x="58.5">: int</tspan></text>
</g></g>

<g id="HrmSchedule" transform="translate(2782.7,1787.7)"><rect class="b" width="202" height="473.3"/><path class="s" d="M0 15.3H202M0 458.6H202"/><text class="h" x="101" y="11">HrmSchedule</text><g transform="translate(6)">
<text y="25">+ id<tspan x="93.5">: long</tspan></text>
<text y="36">+ relatedid<tspan x="93.5">: int</tspan></text>
<text y="47">+ monstarttime1<tspan x="93.5">: java.lang.String</tspan></text>
<text y="58">+ monendtime1<tspan x="93.5">: java.lang.String</tspan></text>
<text y="69">+ monstarttime2<tspan x="93.5">: java.lang.String</tspan></text>
<text y="80">+ monendtime2<tspan x="93.5">: java.lang.String</tspan></text>
<text y="91">+ tuestarttime1<tspan x="93.5">: java.lang.String</tspan></text>
<text y="102">+ tueendtime1<tspan x="93.5">: java.lang.String</tspan></text>
<text y="113">+ tuestarttime2<tspan x="93.5">: java.lang.String</tspan></text>
<text y="124">+ tueendtime2<tspan x="93.5">: java.lang.String</tspan></text>
<text y="135">+ wedstarttime1<tspan x="93.5">: java.lang.String</tspan></text>
<text y="146">+ wedendtime1<tspan x="93.5">: java.lang.String</tspan></text>
<text y="157">+ wedstarttime2<tspan x="93.5">: java.lang.String</tspan></text>
<text y="168">+ wedendtime2<tspan x="93.5">: java.lang.String</tspan></text>
<text y="179">+ thustarttime1<tspan x="93.5">: java.lang.String</tspan></text>
<text y="190">+ thuendtime1<tspan x="93.5">: java.lang.String</tspan></text>
<text y="201">+ thustarttime2<tspan x="93.5">: java.lang.String</tspan></text>
<text y="212">+ thuendtime2<tspan x="93.5">: java.lang.String</tspan></text>
<text y="223">+ fristarttime1<tspan x="93.5">: java.lang.String</tspan></text>
<text y="234">+ friendtime1<tspan x="93.5">: java.lang.String</tspan></text>
<text y="245">+ fristarttime2<tspan x="93.5">: java.lang.String</tspan></text>
<text y="256">+ friendtime2<tspan x="93.5">: java.lang.String</tspan></text>
<text y="267">+ satstarttime1<tspan x="93.5">: java.lang.String</tspan></text>
<text y="278">+ satendtime1<tspan x="93.5">: java.lang.String</tspan></text>
<text y="289">+ satstarttime2<tspan x="93.5">: java.lang.String</tspan></text>
<text y="300">+ satendtime2<tspan x="93.5">: java.lang.String</tspan></text>
<text y="311">+ sunstarttime1<tspan x="93.5">: java.lang.String</tspan></text>
<text y="322">+ sunendtime1<tspan x="93.5">: java.lang.String</tspan></text>
<text y="333">+ sunstarttime2<tspan x="93.5">: java.lang.String</tspan></text>
<text y="344">+ sunendtime2<tspan x="93.5">: java.lang.String</tspan></text>
<text y="355">+ totaltime<tspan x="93.5">: java.lang.String</tspan></text>
<text y="366">+ scheduletype<tspan x="93.5">: java.lang.String</tspan></text>
<text y="377">+ validedatefrom<tspan x="93.5">: java.lang.String</tspan></text>
<text y="388">+ validedateto<tspan x="93.5">: java.lang.String</tspan></text>
<text y="399">+ sign_type<tspan x="93.5">: int</tspan></text>
<text y="410">+ sign_start_time<tspan x="93.5">: java.lang.String</tspan></text>
<text y="421">+ needSign<tspan x="93.5">: int</tspan></text>
<text y="432">+ onlyworkday<tspan x="93.5">: int</tspan></text>
<text y="443">+ signTimeScope<tspan x="93.5">: java.lang.String</tspan></text>
<text y="454">+ signIpScope<tspan x="93.5">: java.lang.String</tspan></text>
</g></g>

<g id="HrmPubHoliday" transform="translate(1072.2,468.3)"><rect class="b" width="192" height="99.3"/><path class="s" d="M0 15.3H192M0 84.6H192"/><text class="h" x="96" y="11">HrmPubHoliday</text><g transform="translate(6)">
<text y="25">+ id<tspan x="83.5">: long</tspan></text>
<text y="36">+ countryid<tspan x="83.5">: int</tspan></text>
<text y="47">+ holidaydate<tspan x="83.5">: java.lang.String</tspan></text>
<text y="58">+ holidayname<tspan x="83.5">: java.lang.String</tspan></text>
<text y="69">+ changetype<tspan x="83.5">: int</tspan></text>
<text y="80">+ relateweekday<tspan x="83.5">: int</tspan></text>
</g></g>

<g id="HrmCountry" transform="translate(1068.4,775.3)"><rect class="b" width="182" height="77.3"/><path class="s" d="M0 15.3H182M0 62.6H182"/><text class="h" x="91" y="11">HrmCountry</text><g transform="translate(6)">
<text y="25">+ id<tspan x="73.5">: long</tspan></text>
<text y="36">+ countryname<tspan x="73.5">: java.lang.String</tspan></text>
<text y="47">+ countrydesc<tspan x="73.5">: java.lang.String</tspan></text>
<text y="58">+ canceled<tspan x="73.5">: java.lang.String</tspan></text>
</g></g>

<g id="hrm_paid_leave" transform="translate(1460.3,589.3)"><rect class="b" width="167" height="187.3"/><path class="s" d="M0 15.3H167M0 172.6H167"/><text class="h" x="83.5" y="11">hrm_paid_leave</text><g transform="translate(6)">
<text y="25">+ id<tspan x="58.5">: long</tspan></text>
<text y="36">+ delflag<tspan x="58.5">: int</tspan></text>
<text y="47">+ field001<tspan x="58.5">: long</tspan></text>
<text y="58">+ field002<tspan x="58.5">: long</tspan></text>
<text y="69">+ field003<tspan x="58.5">: java.lang.String</tspan></text>
<text y="80">+ field004<tspan x="58.5">: java.lang.String</tspan></text>
<text y="91">+ field005<tspan x="58.5">: java.lang.String</tspan></text>
<text y="102">+ field006<tspan x="58.5">: java.lang.String</tspan></text>
<text y="113">+ field007<tspan x="58.5">: int</tspan></text>
<text y="124">+ field008<tspan x="58.5">: float</tspan></text>
<text y="135">+ field009<tspan x="58.5">: float</tspan></text>
<text y="146">+ field010<tspan x="58.5">: java.lang.String</tspan></text>
<text y="157">+ field011<tspan x="58.5">: float</tspan></text>
<text y="168">+ field012<tspan x="58.5">: java.lang.String</tspan></text>
</g></g>

<g id="Bill_BoHaiEvection" transform="translate(1453.4,807.3)"><rect class="b" width="197" height="132.3"/><path class="s" d="M0 15.3H197M0 117.6H197"/><text class="h" x="98.5" y="11">Bill_BoHaiEvection</text><g transform="translate(6)">
<text y="25">+ id<tspan x="88.5">: long</tspan></text>
<text y="36">+ resourceId<tspan x="88.5">: int</tspan></text>
<text y="47">+ departmentId<tspan x="88.5">: int</tspan></text>
<text y="58">+ fromDate<tspan x="88.5">: java.lang.String</tspan></text>
<text y="69">+ fromTime<tspan x="88.5">: java.lang.String</tspan></text>
<text y="80">+ toDate<tspan x="88.5">: java.lang.String</tspan></text>
<text y="91">+ toTime<tspan x="88.5">: java.lang.String</tspan></text>
<text y="102">+ evectionReason<tspan x="88.5">: java.lang.String</tspan></text>
<text y="113">+ requestid<tspan x="88.5">: int</tspan></text>
</g></g>

<g id="Bill_BoHaiOut" transform="translate(1736.3,961.6)"><rect class="b" width="187" height="154.3"/><path class="s" d="M0 15.3H187M0 139.6H187"/><text class="h" x="93.5" y="11">Bill_BoHaiOut</text><g transform="translate(6)">
<text y="25">+ id<tspan x="78.5">: long</tspan></text>
<text y="36">+ resourceId<tspan x="78.5">: int</tspan></text>
<text y="47">+ departmentId<tspan x="78.5">: int</tspan></text>
<text y="58">+ applyDate<tspan x="78.5">: java.lang.String</tspan></text>
<text y="69">+ applyTime<tspan x="78.5">: java.lang.String</tspan></text>
<text y="80">+ fromDate<tspan x="78.5">: java.lang.String</tspan></text>
<text y="91">+ fromTime<tspan x="78.5">: java.lang.String</tspan></text>
<text y="102">+ toDate<tspan x="78.5">: java.lang.String</tspan></text>
<text y="113">+ toTime<tspan x="78.5">: java.lang.String</tspan></text>
<text y="124">+ outReason<tspan x="78.5">: java.lang.String</tspan></text>
<text y="135">+ requestid<tspan x="78.5">: int</tspan></text>
</g></g>

<g id="HrmAnnualManagement" transform="translate(1570.3,1330.1)"><rect class="b" width="176" height="88.3"/><path class="s" d="M0 15.3H176M0 73.6H176"/><text class="h" x="88" y="11">HrmAnnualManagement</text><g transform="translate(6)">
<text y="25">+ id<tspan x="68.5">: long</tspan></text>
<text y="36">+ resourceid<tspan x="68.5">: int</tspan></text>
<text y="47">+ annualyear<tspan x="68.5">: java.lang.String</tspan></text>
<text y="58">+ annualdays<tspan x="68.5">: float</tspan></text>
<text y="69">+ status<tspan x="68.5">: int</tspan></text>
</g></g>

<g id="HrmAnnualPeriod" transform="translate(1564.3,1489.4)"><rect class="b" width="187" height="88.3"/><path class="s" d="M0 15.3H187M0 73.6H187"/><text class="h" x="93.5" y="11">HrmAnnualPeriod</text><g transform="translate(6)">
<text y="25">+ id<tspan x="78.5">: long</tspan></text>
<text y="36">+ annualyear<tspan x="78.5">: java.lang.String</tspan></text>
<text y="47">+ startdate<tspan x="78.5">: java.lang.String</tspan></text>
<text y="58">+ enddate<tspan x="78.5">: java.lang.String</tspan></text>
<text y="69">+ subcompanyid<tspan x="78.5">: int</tspan></text>
</g></g>

<g id="HrmAnnualBatchProcess" transform="translate(1560.3,1703.8)"><rect class="b" width="131" height="77.3"/><path class="s" d="M0 15.3H131M0 62.6H131"/><text class="h" x="65.5" y="11">HrmAnnualBatchProcess</text><g transform="translate(6)">
<text y="25">+ id<tspan x="78.5">: long</tspan></text>
<text y="36">+ workingage<tspan x="78.5">: float</tspan></text>
<text y="47">+ annualdays<tspan x="78.5">: float</tspan></text>
<text y="58">+ subcompanyid<tspan x="78.5">: int</tspan></text>
</g></g>

<g id="hrm_schedule_shifts_detail" transform="translate(5.6,1146.3)"><rect class="b" width="167" height="539.3"/><path class="s" d="M0 15.3H167M0 524.6H167"/><text class="h" x="83.5" y="11">hrm_schedule_shifts_detail</text><g transform="translate(6)">
<text y="25">+ id<tspan x="58.5">: long</tspan></text>
<text y="36">+ delflag<tspan x="58.5">: int</tspan></text>
<text y="47">+ mfid<tspan x="58.5">: long</tspan></text>
<text y="58">+ d001<tspan x="58.5">: int</tspan></text>
<text y="69">+ d002<tspan x="58.5">: int</tspan></text>
<text y="80">+ d003<tspan x="58.5">: int</tspan></text>
<text y="91">+ d004<tspan x="58.5">: int</tspan></text>
<text y="102">+ d005<tspan x="58.5">: int</tspan></text>
<text y="113">+ d006<tspan x="58.5">: int</tspan></text>
<text y="124">+ d007<tspan x="58.5">: int</tspan></text>
<text y="135">+ d008<tspan x="58.5">: int</tspan></text>
<text y="146">+ d009<tspan x="58.5">: int</tspan></text>
<text y="157">+ d010<tspan x="58.5">: int</tspan></text>
<text y="168">+ d011<tspan x="58.5">: int</tspan></text>
<text y="179">+ d012<tspan x="58.5">: int</tspan></text>
<text y="190">+ d013<tspan x="58.5">: int</tspan></text>
<text y="201">+ d014<tspan x="58.5">: int</tspan></text>
<text y="212">+ d015<tspan x="58.5">: int</tspan></text>
<text y="223">+ d016<tspan x="58.5">: int</tspan></text>
<text y="234">+ d017<tspan x="58.5">: int</tspan></text>
<text y="245">+ d018<tspan x="58.5">: int</tspan></text>
<text y="256">+ d019<tspan x="58.5">: int</tspan></text>
<text y="267">+ d020<tspan x="58.5">: int</tspan></text>
<text y="278">+ d021<tspan x="58.5">: int</tspan></text>
<text y="289">+ d022<tspan x="58.5">: int</tspan></text>
<text y="300">+ d023<tspan x="58.5">: int</tspan></text>
<text y="311">+ d024<tspan x="58.5">: int</tspan></text>
<text y="322">+ d025<tspan x="58.5">: int</tspan></text>
<text y="333">+ d026<tspan x="58.5">: int</tspan></text>
<text y="344">+ d027<tspan x="58.5">: int</tspan></text>
<text y="355">+ d028<tspan x="58.5">: int</tspan></text>
<text y="366">+ d029<tspan x="58.5">: int</tspan></text>
<text y="377">+ d030<tspan x="58.5">: int</tspan></text>
<text y="388">+ d031<tspan x="58.5">: int</tspan></text>
<text y="399">+ w001<tspan x="58.5">: int</tspan></text>
<text y="410">+ w002<tspan x="58.5">: int</tspan></text>
<text y="421">+ w003<tspan x="58.5">: int</tspan></text>
<text y="432">+ w004<tspan x="58.5">: int</tspan></text>
<text y="443">+ w005<tspan x="58.5">: int</tspan></text>
<text y="454">+ w006<tspan x="58.5">: int</tspan></text>
<text y="465">+ w007<tspan x="58.5">: int</tspan></text>
<text y="476">+ field001<tspan x="58.5">: long</tspan></text>
<text y="487">+ field002<tspan x="58.5">: java.lang.String</tspan></text>
<text y="498">+ field003<tspan x="58.5">: int</tspan></text>
<text y="509">+ field004<tspan x="58.5">: int</tspan></text>
<text y="520">+ field005<tspan x="58.5">: int</tspan></text>
</g></g>

<g id="hrm_schedule_shifts_set" transform="translate(422.4,1131.4)"><rect class="b" width="238" height="187.3"/><path class="s" d="M0 15.3H238M0 172.6H238"/><text class="h" x="119" y="11">hrm_schedule_shifts_set</text><g transform="translate(6)">
<text y="25">+ id<tspan x="128.5">: long</tspan></text>
<text y="36">+ delflag<tspan x="128.5">: int</tspan></text>
<text y="47">+ creater<tspan x="128.5">: long</tspan></text>
<text y="58">+ create_time<tspan x="128.5">: java.lang.String</tspan></text>
<text y="69">+ last_modifier<tspan x="128.5">: long</tspan></text>
<text y="80">+ last_modification_time<tspan x="128.5">: java.lang.String</tspan></text>
<text y="91">+ sn<tspan x="128.5">: int</tspan></text>
<text y="102">+ field001<tspan x="128.5">: java.lang.String</tspan></text>
<text y="113">+ field002<tspan x="128.5">: int</tspan></text>
<text y="124">+ field003<tspan x="128.5">: int</tspan></text>
<text y="135">+ field004<tspan x="128.5">: int</tspan></text>
<text y="146">+ field005<tspan x="128.5">: int</tspan></text>
<text y="157">+ field006<tspan x="128.5">: int</tspan></text>
<text y="168">+ field007<tspan x="128.5">: java.lang.String</tspan></text>
</g></g>

<g id="hrm_schedule_set" transform="translate(432.4,1480.8)"><rect class="b" width="239" height="154.3"/><path class="s" d="M0 15.3H239M0 139.6H239"/><text class="h" x="119.5" y="11">hrm_schedule_set</text><g transform="translate(6)">
<text y="25">+ id<tspan x="128.5">: long</tspan></text>
<text y="36">+ delflag<tspan x="128.5">: int</tspan></text>
<text y="47">+ creater<tspan x="128.5">: long</tspan></text>
<text y="58">+ create_time<tspan x="128.5">: java.lang.String</tspan></text>
<text y="69">+ last_modifier<tspan x="128.5">: long</tspan></text>
<text y="80">+ last_modification_time<tspan x="128.5">: java.lang.String</tspan></text>
<text y="91">+ sn<tspan x="128.5">: int</tspan></text>
<text y="102">+ field001<tspan x="128.5">: java.lang.String</tspan></text>
<text y="113">+ field002<tspan x="128.5">: java.lang.String</tspan></text>
<text y="124">+ field003<tspan x="128.5">: long</tspan></text>
<text y="135">+ field004<tspan x="128.5">: int</tspan></text>
</g></g>

<g id="hrm_schedule_set_detail" transform="translate(1086,1105)"><rect class="b" width="167" height="110.3"/><path class="s" d="M0 15.3H167M0 95.6H167"/><text class="h" x="83.5" y="11">hrm_schedule_set_detail</text><g transform="translate(6)">
<text y="25">+ id<tspan x="58.5">: long</tspan></text>
<text y="36">+ delflag<tspan x="58.5">: int</tspan></text>
<text y="47">+ field001<tspan x="58.5">: long</tspan></text>
<text y="58">+ field002<tspan x="58.5">: java.lang.String</tspan></text>
<text y="69">+ field003<tspan x="58.5">: java.lang.String</tspan></text>
<text y="80">+ field004<tspan x="58.5">: java.lang.String</tspan></text>
<text y="91">+ field005<tspan x="58.5">: java.lang.String</tspan></text>
</g></g>

<g id="hrm_schedule_shifts_set_id" transform="translate(816,1439)"><rect class="b" width="170" height="66.3"/><path class="s" d="M0 15.3H170M0 51.6H170"/><text class="h" x="85" y="11">hrm_schedule_shifts_set_id</text><g transform="translate(6)">
<text y="25">+ id<tspan x="58.5">: long</tspan></text>
<text y="36">+ field001<tspan x="58.5">: int</tspan></text>
<text y="47">+ field002<tspan x="58.5">: java.lang.String</tspan></text>
</g></g>

<g id="hrm_schedule_set_person" transform="translate(946,1632)"><rect class="b" width="150" height="77.3"/><path class="s" d="M0 15.3H150M0 62.6H150"/><text class="h" x="75" y="11">hrm_schedule_set_person</text><g transform="translate(6)">
<text y="25">+ id<tspan x="58.5">: long</tspan></text>
<text y="36">+ delflag<tspan x="58.5">: int</tspan></text>
<text y="47">+ field001<tspan x="58.5">: long</tspan></text>
<text y="58">+ field002<tspan x="58.5">: int</tspan></text>
</g></g>

<g id="hrm_schedule_shifts_wt" transform="translate(498,1818)"><rect class="b" width="141" height="77.3"/><path class="s" d="M0 15.3H141M0 62.6H141"/><text class="h" x="70.5" y="11">hrm_schedule_shifts_wt</text><g transform="translate(6)">
<text y="25">+ id<tspan x="58.5">: long</tspan></text>
<text y="36">+ field001<tspan x="58.5">: long</tspan></text>
<text y="47">+ field002<tspan x="58.5">: long</tspan></text>
<text y="58">+ field003<tspan x="58.5">: long</tspan></text>
</g></g>

<g id="hrm_schedule_worktime" transform="translate(747,1776)"><rect class="b" width="234" height="176.3"/><path class="s" d="M0 15.3H234M0 161.6H234"/><text class="h" x="117" y="11">hrm_schedule_worktime</text><g transform="translate(6)">
<text y="25">+ id<tspan x="128.5">: long</tspan></text>
<text y="36">+ delflag<tspan x="128.5">: int</tspan></text>
<text y="47">+ creater<tspan x="128.5">: long</tspan></text>
<text y="58">+ create_time<tspan x="128.5">: java.lang.String</tspan></text>
<text y="69">+ last_modifier<tspan x="128.5">: long</tspan></text>
<text y="80">+ last_modification_time<tspan x="128.5">: java.lang.String</tspan></text>
<text y="91">+ field001<tspan x="128.5">: java.lang.String</tspan></text>
<text y="102">+ field002<tspan x="128.5">: int</tspan></text>
<text y="113">+ field003<tspan x="128.5">: int</tspan></text>
<text y="124">+ field004<tspan x="128.5">: int</tspan></text>
<text y="135">+ field005<tspan x="128.5">: int</tspan></text>
<text y="146">+ field006<tspan x="128.5">: int</tspan></text>
<text y="157">+ field007<tspan x="128.5">: double</tspan></text>
</g></g>
</g>
</svg>
